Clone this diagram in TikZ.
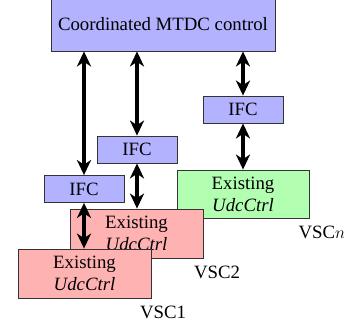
\documentclass[tikz,border=0pt]{standalone}
\usepackage{fontspec}
\setmainfont{Liberation Serif}
\usetikzlibrary{arrows.meta}
\begin{document}
\begin{tikzpicture}[x=1pt,y=-1pt,
  every node/.style={font=\fontsize{18.8}{22}\selectfont, inner sep=0pt},
  block/.style={draw=black!80, line width=0.8pt, align=center},
  ifcbox/.style={block, fill=blue!30, minimum width=80pt, minimum height=27pt},
  vscred/.style={block, fill=red!30, minimum width=133pt, minimum height=49pt},
  vscgreen/.style={block, fill=green!30, minimum width=132pt, minimum height=48pt},
  link/.style={line width=4pt, {Stealth[length=15pt,width=14pt,inset=4.5pt]}-{Stealth[length=15pt,width=14pt,inset=4.5pt]}},
  tag/.style={}]
\useasboundingbox (0,0) rectangle (344,326);

% central controller
\node[block, fill=blue!30, minimum width=224pt, minimum height=53pt] (ctrl) at (163,24.5) {Coordinated MTDC control};

% converter stations, back to front
\node[vscgreen] (vscn) at (243,194) {Existing\\\textit{UdcCtrl}};
\node[vscred] (vsc2) at (136.5,233.5) {Existing\\\textit{UdcCtrl}};
\node[vscred] (vsc1) at (84.5,273.5) {Existing\\\textit{UdcCtrl}};

% interface controllers
\node[ifcbox] (ifc1) at (84,189) {IFC};
\node[ifcbox] (ifc2) at (137,149.5) {IFC};
\node[ifcbox] (ifcn) at (243,109.5) {IFC};

% station labels
\node[tag] (lab1) at (163,312) {VSC1};
\node[tag] (lab2) at (217,272) {VSC2};
\node[tag] (labn) at (322,232) {VSC$n$};

% signal links
\draw[link] (ifc1.north) -- (ifc1.north |- ctrl.south);
\draw[link] (ifc2.north) -- (ifc2.north |- ctrl.south);
\draw[link] (ifcn.north) -- (ifcn.north |- ctrl.south);
\draw[link] (ifc1.south) -- (ifc1.south |- vsc1.north);
\draw[link] (ifc2.south) -- (ifc2.south |- vsc2.north);
\draw[link] (ifcn.south) -- (ifcn.south |- vscn.north);
\end{tikzpicture}
\end{document}
